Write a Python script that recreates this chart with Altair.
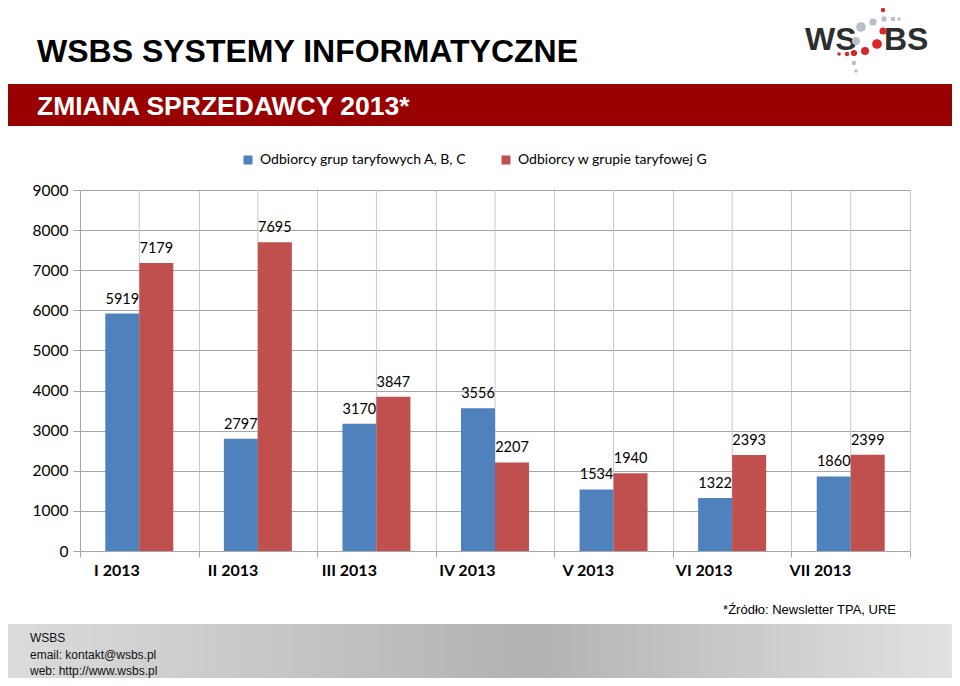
import altair as alt
import pandas as pd

# ---- data ----
months = ["I 2013", "II 2013", "III 2013", "IV 2013", "V 2013", "VI 2013", "VII 2013"]
series_names = ["Odbiorcy grup taryfowych A, B, C", "Odbiorcy w grupie taryfowej G"]
abc_values = [5919, 2797, 3170, 3556, 1534, 1322, 1860]
g_values = [7179, 7695, 3847, 2207, 1940, 2393, 2399]
y_ticks = [0, 1000, 2000, 3000, 4000, 5000, 6000, 7000, 8000, 9000]
series_colors = ["#4F81BD", "#C0504D"]

title_text = "WSBS SYSTEMY INFORMATYCZNE"
banner_text = "ZMIANA SPRZEDAWCY 2013*"
source_text = "*Źródło: Newsletter TPA, URE"
footer_lines = ["WSBS", "email: kontakt@wsbs.pl", "web: http://www.wsbs.pl"]

# decorative logo dots (pixel offsets, colour, radius) - not chart data
logo_dot_x = [803, 803, 804, 813, 819, 793, 781, 803, 776, 797, 785, 774, 767, 759, 774, 776]
logo_dot_y = [-188, -180, -171, -171, -171, -168, -163, -159, -149, -146, -139, -137, -136, -136, -127, -119]
logo_dot_r = [1.5, 2.5, 3, 2.5, 2, 4, 5.5, 4, 4.5, 5.5, 4.5, 3.5, 2.5, 2, 2.5, 2]
logo_dot_c = ["r", "r", "g", "g", "g", "g", "g", "r", "g", "r", "r", "r", "r", "r", "g", "g"]

rows = []
for m, a, g in zip(months, abc_values, g_values):
    rows.append({"month": m, "series": series_names[0], "value": a})
    rows.append({"month": m, "series": series_names[1], "value": g})
df = pd.DataFrame(rows)

W, H = 830, 361
GRID_H = "#a6a6a6"
GRID_V = "#c8c8c8"

x_enc = alt.X(
    "month:N", sort=months,
    scale=alt.Scale(paddingInner=0, paddingOuter=0),
    axis=alt.Axis(title=None, labelAngle=0, labelFont="Lato", labelFontWeight="bold",
                  labelFontSize=16, labelColor="black", labelPadding=13,
                  tickSize=6, tickColor=GRID_H, tickBand="extent",
                  grid=True, gridColor=GRID_V, domainColor=GRID_H),
)
y_enc = alt.Y(
    "value:Q", scale=alt.Scale(domain=[0, 9000]),
    axis=alt.Axis(values=y_ticks, title=None, format="d", labelFont="Lato",
                  labelFontSize=15.5, labelColor="black", tickSize=7, labelPadding=5,
                  grid=True, tickColor=GRID_H, gridColor=GRID_H, domainColor=GRID_H),
)
xoff = alt.XOffset("series:N", sort=series_names,
                   scale=alt.Scale(paddingInner=0, paddingOuter=0.744))

base = alt.Chart(df)

mid_rules = alt.Chart(pd.DataFrame({"month": months})).mark_rule(
    color=GRID_V, strokeWidth=1
).encode(x=alt.X("month:N", sort=months), y=alt.value(0), y2=alt.value(H))

bars = base.mark_bar().encode(
    x=x_enc, xOffset=xoff, y=y_enc,
    color=alt.Color("series:N",
                    scale=alt.Scale(domain=series_names, range=series_colors),
                    legend=alt.Legend(title=None, orient="none", legendX=161, legendY=-37,
                                      direction="horizontal", symbolType="square",
                                      symbolSize=81, symbolStrokeWidth=0,
                                      labelFont="Lato", labelFontSize=14,
                                      labelColor="black", columnPadding=32,
                                      labelOffset=5, labelLimit=400)),
)

labels = base.mark_text(font="Lato", fontSize=14.5, color="black", dy=-10,
                        baseline="alphabetic").encode(
    x=alt.X("month:N", sort=months), xOffset=xoff, y="value:Q", text="value:Q"
)

one = pd.DataFrame({"t": [""]})

def txt(s, xv, yv, **kw):
    return alt.Chart(pd.DataFrame({"t": [s]})).mark_text(**kw).encode(
        x=alt.value(xv), y=alt.value(yv), text="t:N")

title = txt(title_text, -43, -128, font="Liberation Sans", fontSize=32,
            fontWeight="bold", color="black", align="left", baseline="alphabetic")

banner = alt.Chart(one).mark_rect(color="#990000").encode(
    x=alt.value(-72), x2=alt.value(876), y=alt.value(-106), y2=alt.value(-64))
banner_t = txt(banner_text, -43, -75, font="Liberation Sans", fontSize=26.5,
               fontWeight="bold", color="white", align="left", baseline="alphabetic")

logo_ws = txt("WS", 725, -140, font="Liberation Sans", fontSize=32, fontWeight="bold",
              color="#2e2e2e", align="left", baseline="alphabetic")
logo_bs = txt("BS", 804, -140, font="Liberation Sans", fontSize=32, fontWeight="bold",
              color="#2e2e2e", align="left", baseline="alphabetic")

dots_df = pd.DataFrame({
    "px": logo_dot_x, "py": logo_dot_y,
    "area": [3.14159 * r * r for r in logo_dot_r],
    "c": ["#d9262b" if c == "r" else "#b9bec8" for c in logo_dot_c],
})
logo_dots = alt.Chart(dots_df).mark_circle(opacity=1).encode(
    x=alt.X("px:Q", scale=None), y=alt.Y("py:Q", scale=None),
    size=alt.Size("area:Q", scale=None), color=alt.Color("c:N", scale=None),
)

source = txt(source_text, 816, 424, font="Liberation Sans", fontSize=13,
             color="black", align="right", baseline="alphabetic")

footer_band = alt.Chart(one).mark_rect(
    color=alt.LinearGradient(
        gradient="linear", x1=0, x2=1, y1=0, y2=0,
        stops=[alt.GradientStop(color="#dcdcdc", offset=0),
               alt.GradientStop(color="#b2b2b2", offset=0.55),
               alt.GradientStop(color="#e2e2e2", offset=1)])
).encode(x=alt.value(-72), x2=alt.value(876), y=alt.value(434), y2=alt.value(488))

footer_texts = [
    txt(line, -50, yy, font="Liberation Sans", fontSize=12, color="#111111",
        align="left", baseline="alphabetic")
    for line, yy in zip(footer_lines, [452, 469, 485])
]

chart = alt.layer(
    mid_rules, bars, labels, title, banner, banner_t, logo_ws, logo_bs, logo_dots,
    source, footer_band, *footer_texts
).properties(
    width=W, height=H,
    autosize=alt.AutoSizeParams(type="none"),
    padding={"left": 72, "top": 182, "right": 42, "bottom": 127},
    background="white",
).configure_view(stroke=None)

chart.save("out.html", embed_options={"renderer": "svg", "actions": False})
